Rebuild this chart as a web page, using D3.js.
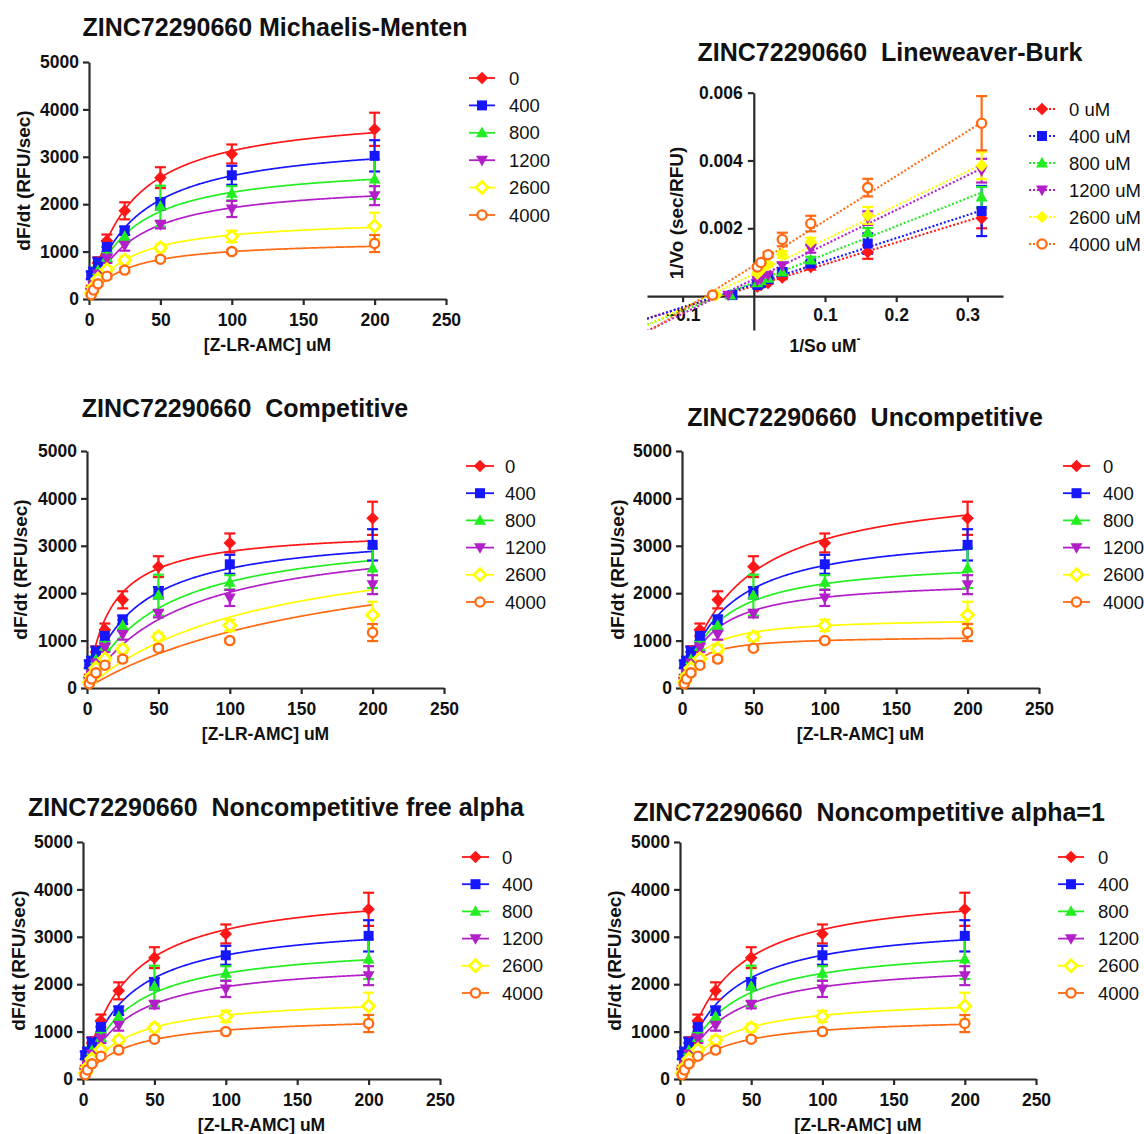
<!DOCTYPE html>
<html>
<head>
<meta charset="utf-8">
<script src="https://cdn.jsdelivr.net/npm/d3@7"></script>
<style>
  body { margin: 0; background: #fff; }
  svg text { font-family: "Liberation Sans", Arial, sans-serif; }
</style>
</head>
<body>
<svg id="fig" width="1144" height="1134"></svg>
<script>
// ---------- data ----------
const compound = "ZINC72290660";
const substrate = [1.5625, 3.125, 6.25, 12.5, 25, 50, 100, 200];      // [Z-LR-AMC] uM
const inhibitor = [0, 400, 800, 1200, 2600, 4000];                   // inhibitor uM
const legendLabels = ["0", "400", "800", "1200", "2600", "4000"];
const lbLegendLabels = ["0 uM", "400 uM", "800 uM", "1200 uM", "2600 uM", "4000 uM"];

// initial rates dF/dt (RFU/sec), mean and error, one array per inhibitor level
const rate0    = [220, 430, 760, 1230, 1860, 2560, 3060, 3580];
const rate0Err = [60, 80, 120, 130, 180, 220, 200, 350];
const rate400    = [500, 560, 760, 1100, 1440, 2010, 2610, 3020];
const rate400Err = [80, 100, 110, 120, 90, 120, 200, 330];
const rate800    = [180, 330, 600, 880, 1320, 1960, 2230, 2530];
const rate800Err = [40, 60, 80, 100, 120, 430, 150, 420];
const rate1200    = [150, 290, 530, 850, 1130, 1570, 1900, 2180];
const rate1200Err = [40, 50, 70, 90, 110, 80, 170, 200];
const rate2600    = [120, 250, 420, 620, 820, 1080, 1320, 1540];
const rate2600Err = [30, 40, 50, 60, 80, 80, 120, 280];
const rate4000    = [90, 190, 320, 480, 610, 840, 1000, 1170];
const rate4000Err = [20, 30, 40, 50, 50, 40, 40, 180];
const rates = [rate0, rate400, rate800, rate1200, rate2600, rate4000];
const rateErrs = [rate0Err, rate400Err, rate800Err, rate1200Err, rate2600Err, rate4000Err];

// double reciprocal values: 1/So and 1/Vo (sec/RFU)
const invS = [0.005, 0.01, 0.02, 0.04, 0.08, 0.16, 0.32];
const inv0    = [0.00028, 0.00033, 0.00039, 0.00055, 0.00086, 0.00130, 0.00230];
const inv0Err = [0.00002, 0.00002, 0.00003, 0.00005, 0.00008, 0.00020, 0.00030];
const inv400    = [0.00033, 0.00038, 0.00050, 0.00071, 0.00096, 0.00155, 0.00251];
const inv400Err = [0.00003, 0.00003, 0.00004, 0.00005, 0.00008, 0.00030, 0.00074];
const inv800    = [0.00039, 0.00045, 0.00052, 0.00071, 0.00106, 0.00189, 0.00292];
const inv800Err = [0.00003, 0.00003, 0.00005, 0.00006, 0.00010, 0.00012, 0.00030];
const inv1200    = [0.00046, 0.00051, 0.00062, 0.00090, 0.00140, 0.00230, 0.00370];
const inv1200Err = [0.00003, 0.00004, 0.00005, 0.00008, 0.00012, 0.00020, 0.00035];
const inv2600    = [0.00066, 0.00077, 0.00093, 0.00123, 0.00160, 0.00238, 0.00385];
const inv2600Err = [0.00004, 0.00005, 0.00006, 0.00010, 0.00012, 0.00025, 0.00040];
const inv4000    = [0.00086, 0.00099, 0.00122, 0.00167, 0.00214, 0.00320, 0.00510];
const inv4000Err = [0.00005, 0.00005, 0.00007, 0.00020, 0.00023, 0.00026, 0.00080];
const invRates = [inv0, inv400, inv800, inv1200, inv2600, inv4000];
const invErrs = [inv0Err, inv400Err, inv800Err, inv1200Err, inv2600Err, inv4000Err];
// points sitting on the 1/So axis near the line crossing
const lbAxisX = [null, -0.030, -0.033, -0.036, -0.053, -0.058];
const lbAxisY = [null, 0.00003, 0.00003, 0.00003, 0.00003, 0.00003];
// linear regression lines of the double reciprocal plot
const lbIntercept = [0.00030, 0.00035, 0.00040, 0.00050, 0.00065, 0.00090];
const lbSlope     = [0.0064, 0.0068, 0.0083, 0.0102, 0.0101, 0.0132];

// fitted parameters
const mmVmax = [4000, 3430, 2880, 2500, 1715, 1250];
const mmKm   = [28, 32, 28, 30, 27, 25];
const compFit   = { Vmax: 3360, Km: 16.6, Ki: 400 };
const uncompFit = { Vmax: 4360, Km: 39, Ki: 1350 };
const mixedFit  = { Vmax: 4050, Km: 28.5, Ki: 1800, alpha: 1.1 };
const noncompFit = { Vmax: 4050, Km: 28.5, Ki: 1930 };

const xTicks = [0, 50, 100, 150, 200, 250];
const yTicks = [0, 1000, 2000, 3000, 4000, 5000];
const lbXTicks = [-0.1, 0.1, 0.2, 0.3];
const lbYTicks = [0.002, 0.004, 0.006];

// ---------- style ----------
const colors = ["#ff1717", "#1717ff", "#22ee22", "#b21fc8", "#ffff00", "#ff6a13"];
const markers = ["diamond", "square", "triUp", "triDown", "openDiamond", "openCircle"];
const lbMarkers = ["diamond", "square", "triUp", "triDown", "diamond", "openCircle"];
const AXIS = "#2a2a2a";

const svg = d3.select("#fig");

function drawMarker(g, kind, color, x, y) {
  if (kind === "openCircle") {
    g.append("circle").attr("cx", x).attr("cy", y).attr("r", 4.6)
      .attr("fill", "#fff").attr("stroke", color).attr("stroke-width", 2.3);
    return;
  }
  const shapes = {
    diamond: "M0,-6.3L6.3,0L0,6.3L-6.3,0Z",
    openDiamond: "M0,-6L6,0L0,6L-6,0Z",
    square: "M-5,-5H5V5H-5Z",
    triUp: "M0,-6.2L6,4.4H-6Z",
    triDown: "M0,6.2L6,-4.4H-6Z"
  };
  const p = g.append("path").attr("d", shapes[kind]).attr("transform", `translate(${x},${y})`);
  if (kind === "openDiamond") p.attr("fill", "#fff").attr("stroke", color).attr("stroke-width", 2.8);
  else p.attr("fill", color);
}

function errorBar(g, color, x, yLo, yHi) {
  g.append("line").attr("x1", x).attr("x2", x).attr("y1", yLo).attr("y2", yHi)
    .attr("stroke", color).attr("stroke-width", 2.2);
  [yLo, yHi].forEach(yy => g.append("line").attr("x1", x - 5.5).attr("x2", x + 5.5)
    .attr("y1", yy).attr("y2", yy).attr("stroke", color).attr("stroke-width", 2.2));
}

function styleAxis(sel, size) {
  sel.select(".domain").attr("stroke", AXIS).attr("stroke-width", 2.2);
  sel.selectAll(".tick line").attr("stroke", AXIS).attr("stroke-width", 2.2);
  sel.selectAll(".tick text").attr("font-size", size).attr("font-weight", "bold")
    .attr("fill", "#111").attr("font-family", '"Liberation Sans", Arial, sans-serif');
}

function title(text, cx, cy) {
  svg.append("text").attr("x", cx).attr("y", cy).attr("text-anchor", "middle")
    .attr("dominant-baseline", "central").attr("font-size", 25).attr("font-weight", "bold")
    .attr("fill", "#111").style("white-space", "pre").text(text);
}

function axisTitleX(text, cx, cy) {
  return svg.append("text").attr("x", cx).attr("y", cy).attr("text-anchor", "middle")
    .attr("dominant-baseline", "central").attr("font-size", 17.5).attr("font-weight", "bold")
    .attr("fill", "#111").text(text);
}

function axisTitleY(text, cx, cy) {
  svg.append("text").attr("transform", `translate(${cx},${cy}) rotate(-90)`)
    .attr("text-anchor", "middle").attr("dominant-baseline", "central")
    .attr("font-size", 19).attr("font-weight", "bold").attr("fill", "#111").text(text);
}

function legend(cfg, labels, kinds, dotted) {
  const g = svg.append("g");
  labels.forEach((lab, i) => {
    const yy = cfg.ly + i * cfg.lstep;
    g.append("line").attr("x1", cfg.lx0).attr("x2", cfg.lx1).attr("y1", yy).attr("y2", yy)
      .attr("stroke", colors[i]).attr("stroke-width", dotted ? 2.2 : 1.8)
      .attr("stroke-dasharray", dotted ? "2,2" : null);
    drawMarker(g, kinds[i], colors[i], (cfg.lx0 + cfg.lx1) / 2, yy);
    g.append("text").attr("x", cfg.tx).attr("y", yy).attr("dominant-baseline", "central")
      .attr("font-size", 18.5).attr("fill", "#111").text(lab);
  });
}

// ---------- rate models ----------
const models = {
  mm: (s, i) => mmVmax[i] * s / (mmKm[i] + s),
  competitive: (s, i) => compFit.Vmax * s / (compFit.Km * (1 + inhibitor[i] / compFit.Ki) + s),
  uncompetitive: (s, i) => uncompFit.Vmax * s / (uncompFit.Km + s * (1 + inhibitor[i] / uncompFit.Ki)),
  mixed: (s, i) => mixedFit.Vmax * s / (mixedFit.Km * (1 + inhibitor[i] / mixedFit.Ki)
                    + s * (1 + inhibitor[i] / (mixedFit.alpha * mixedFit.Ki))),
  noncompetitive: (s, i) => noncompFit.Vmax * s / ((noncompFit.Km + s) * (1 + inhibitor[i] / noncompFit.Ki))
};

// ---------- velocity vs substrate panels ----------
function kineticPanel(cfg, model) {
  const x = d3.scaleLinear().domain([0, 250]).range([cfg.x0, cfg.x1]);
  const y = d3.scaleLinear().domain([0, 5000]).range([cfg.yb, cfg.yt]);
  const g = svg.append("g");

  const xa = g.append("g").attr("transform", `translate(0,${cfg.yb})`)
    .call(d3.axisBottom(x).tickValues(xTicks).tickSize(6).tickSizeOuter(0).tickPadding(9));
  styleAxis(xa, 17.5);
  const ya = g.append("g").attr("transform", `translate(${cfg.x0},0)`)
    .call(d3.axisLeft(y).tickValues(yTicks).tickSize(6).tickSizeOuter(0).tickPadding(4).tickFormat(d3.format("d")));
  styleAxis(ya, 17.5);

  const line = d3.line().x(d => x(d[0])).y(d => y(d[1]));
  const sGrid = d3.range(0, 200.001, 0.5);
  inhibitor.forEach((I, i) => {
    g.append("path").attr("d", line(sGrid.map(s => [s, model(s, i)])))
      .attr("fill", "none").attr("stroke", colors[i]).attr("stroke-width", 1.7);
  });
  inhibitor.forEach((I, i) => {
    substrate.forEach((s, k) => {
      errorBar(g, colors[i], x(s), y(rates[i][k] - rateErrs[i][k]), y(rates[i][k] + rateErrs[i][k]));
    });
  });
  inhibitor.forEach((I, i) => {
    substrate.forEach((s, k) => drawMarker(g, markers[i], colors[i], x(s), y(rates[i][k])));
  });

  title(cfg.title, cfg.tcx, cfg.tcy);
  axisTitleX("[Z-LR-AMC] uM", (cfg.x0 + cfg.x1) / 2, cfg.yb + 46);
  axisTitleY("dF/dt (RFU/sec)", cfg.ycx, (cfg.yt + cfg.yb) / 2);
  legend(cfg, legendLabels, markers, false);
}

const panels = [
  { model: "mm", title: `${compound} Michaelis-Menten`, tcx: 275, tcy: 27,
    x0: 89, x1: 446, yt: 62, yb: 299, ycx: 23, lx0: 469, lx1: 495, tx: 509, ly: 78, lstep: 27.4 },
  { model: "competitive", title: `${compound}  Competitive`, tcx: 245, tcy: 408,
    x0: 87, x1: 444, yt: 451, yb: 688, ycx: 20, lx0: 466, lx1: 494, tx: 505, ly: 466, lstep: 27.2 },
  { model: "uncompetitive", title: `${compound}  Uncompetitive`, tcx: 865, tcy: 417,
    x0: 682, x1: 1039, yt: 451, yb: 688, ycx: 617, lx0: 1063, lx1: 1090, tx: 1103, ly: 466, lstep: 27.2 },
  { model: "mixed", title: `${compound}  Noncompetitive free alpha`, tcx: 276, tcy: 807,
    x0: 83, x1: 440, yt: 842, yb: 1079, ycx: 18, lx0: 462, lx1: 489, tx: 502, ly: 857, lstep: 27.2 },
  { model: "noncompetitive", title: `${compound}  Noncompetitive alpha=1`, tcx: 869, tcy: 812,
    x0: 680, x1: 1036, yt: 842, yb: 1079, ycx: 614, lx0: 1058, lx1: 1084, tx: 1098, ly: 857, lstep: 27.2 }
];
panels.forEach(p => kineticPanel(p, models[p.model]));

// ---------- Lineweaver-Burk panel ----------
(function lineweaverBurk() {
  const cfg = { x0: 647, x1: 1003, yt: 92.7, yb: 330, lx0: 1029, lx1: 1055, tx: 1069, ly: 109, lstep: 27 };
  const x = d3.scaleLinear().domain([-0.15, 0.35]).range([cfg.x0, cfg.x1]);
  const y = d3.scaleLinear().domain([-0.001, 0.006]).range([cfg.yb, cfg.yt]);
  const g = svg.append("g");

  const xa = g.append("g").attr("transform", `translate(0,${y(0)})`)
    .call(d3.axisBottom(x).tickValues(lbXTicks).tickSize(6).tickSizeOuter(0).tickPadding(6).tickFormat(d3.format(".1f")));
  styleAxis(xa, 17.5);
  const ya = g.append("g").attr("transform", `translate(${x(0)},0)`)
    .call(d3.axisLeft(y).tickValues(lbYTicks).tickSize(6).tickSizeOuter(0).tickPadding(5).tickFormat(d3.format(".3f")));
  styleAxis(ya, 17.5);

  g.append("clipPath").attr("id", "lbclip").append("rect")
    .attr("x", cfg.x0).attr("y", cfg.yt).attr("width", cfg.x1 - cfg.x0).attr("height", cfg.yb - cfg.yt);
  inhibitor.forEach((I, i) => {
    const xs = [-0.15, invS[invS.length - 1]];
    g.append("line").attr("clip-path", "url(#lbclip)")
      .attr("x1", x(xs[0])).attr("y1", y(lbIntercept[i] + lbSlope[i] * xs[0]))
      .attr("x2", x(xs[1])).attr("y2", y(lbIntercept[i] + lbSlope[i] * xs[1]))
      .attr("stroke", colors[i]).attr("stroke-width", 2.1).attr("stroke-dasharray", "2,2");
  });
  inhibitor.forEach((I, i) => {
    invS.forEach((v, k) => errorBar(g, colors[i], x(v), y(invRates[i][k] - invErrs[i][k]), y(invRates[i][k] + invErrs[i][k])));
  });
  inhibitor.forEach((I, i) => {
    invS.forEach((v, k) => drawMarker(g, lbMarkers[i], colors[i], x(v), y(invRates[i][k])));
    if (lbAxisX[i] !== null) drawMarker(g, lbMarkers[i], colors[i], x(lbAxisX[i]), y(lbAxisY[i]));
  });

  title(`${compound}  Lineweaver-Burk`, 890, 52);
  const xt = axisTitleX("1/So uM", (cfg.x0 + cfg.x1) / 2, 346);
  xt.append("tspan").attr("dy", -7).attr("font-size", 12).text("-");
  axisTitleY("1/Vo (sec/RFU)", 676, 213);
  legend(cfg, lbLegendLabels, lbMarkers, true);
})();
</script>
</body>
</html>
